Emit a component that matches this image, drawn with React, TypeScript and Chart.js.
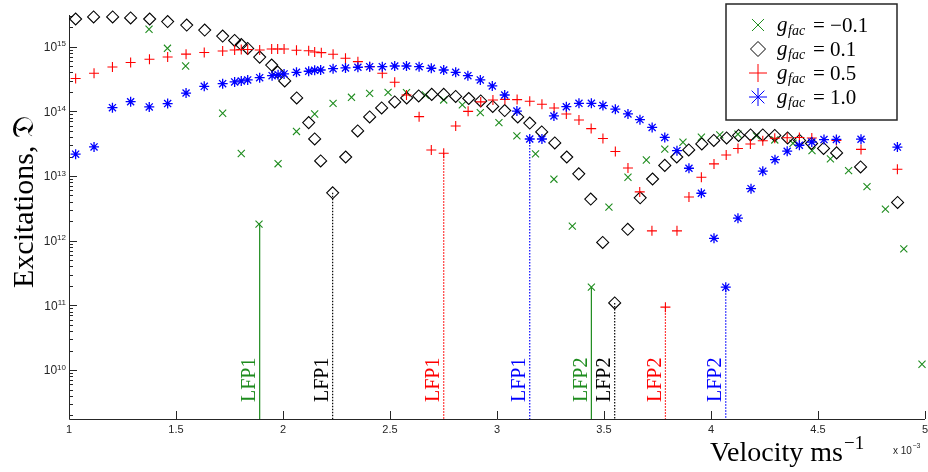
import React, { useEffect, useRef } from "react";
import { Chart, registerables } from "chart.js";

Chart.register(...registerables);

// ---------- data ----------
const X_MIN = 1;
const X_MAX = 5;
const Y_MIN = 1.75e9;
const Y_MAX = 3.09e15;

const xTicks = [1, 1.5, 2, 2.5, 3, 3.5, 4, 4.5, 5];
const xTickLabels = ["1", "1.5", "2", "2.5", "3", "3.5", "4", "4.5", "5"];
const yDecades = [10, 11, 12, 13, 14, 15];

const seriesNames = ["−0.1", "0.1", "0.5", "1.0"];
const seriesColors = ["#1e8c1e", "#000000", "#ff0000", "#0000ff"];

const greenVel = [1.374, 1.46, 1.545, 1.718, 1.805, 1.888, 1.977, 2.063, 2.148, 2.234, 2.32, 2.405, 2.491, 2.577, 2.665, 2.751, 2.838, 2.922, 3.009, 3.093, 3.18, 3.266, 3.352, 3.441, 3.523, 3.612, 3.698, 3.784, 3.869, 3.955, 4.041, 4.126, 4.212, 4.298, 4.383, 4.472, 4.558, 4.643, 4.729, 4.815, 4.901, 4.986];
const greenExc = [1.86e15, 9.45e14, 5.03e14, 9.35e13, 2.23e13, 1.8e12, 1.55e13, 4.89e13, 9.1e13, 1.33e14, 1.65e14, 1.9e14, 1.97e14, 1.95e14, 1.79e14, 1.5e14, 1.26e14, 9.55e13, 6.69e13, 4.17e13, 2.2e13, 8.93e12, 1.68e12, 1.91e11, 3.3e12, 9.57e12, 1.77e13, 2.6e13, 3.33e13, 3.98e13, 4.32e13, 4.43e13, 4.17e13, 3.61e13, 3.21e13, 2.47e13, 1.84e13, 1.21e13, 6.85e12, 3.07e12, 7.46e11, 1.23e10];

const blackVel = [1.031, 1.115, 1.204, 1.288, 1.377, 1.461, 1.55, 1.634, 1.718, 1.774, 1.805, 1.835, 1.891, 1.947, 1.975, 2.008, 2.064, 2.12, 2.148, 2.176, 2.232, 2.293, 2.349, 2.405, 2.461, 2.522, 2.578, 2.634, 2.695, 2.751, 2.807, 2.868, 2.924, 2.98, 3.036, 3.097, 3.153, 3.209, 3.27, 3.326, 3.382, 3.438, 3.494, 3.55, 3.611, 3.669, 3.727, 3.784, 3.84, 3.896, 3.957, 4.013, 4.073, 4.129, 4.185, 4.242, 4.298, 4.358, 4.414, 4.47, 4.526, 4.587, 4.699, 4.872];
const blackExc = [2.68e15, 2.88e15, 2.88e15, 2.78e15, 2.68e15, 2.45e15, 2.16e15, 1.81e15, 1.46e15, 1.25e15, 1.08e15, 9.4e14, 6.9e14, 5.2e14, 4.06e14, 2.95e14, 1.61e14, 6.7e13, 3.74e13, 1.71e13, 5.5e12, 1.97e13, 4.98e13, 8.2e13, 1.13e14, 1.4e14, 1.61e14, 1.73e14, 1.83e14, 1.83e14, 1.7e14, 1.58e14, 1.45e14, 1.19e14, 1.03e14, 8.2e13, 6.6e13, 4.8e13, 3.25e13, 1.97e13, 1.08e13, 4.4e12, 9.4e11, 1.09e11, 1.5e12, 4.6e12, 9.0e12, 1.46e13, 1.97e13, 2.53e13, 3.13e13, 3.55e13, 3.88e13, 4.24e13, 4.32e13, 4.32e13, 4.24e13, 3.88e13, 3.55e13, 3.19e13, 2.67e13, 2.28e13, 1.38e13, 3.9e12];

const redVel = [1.031, 1.117, 1.203, 1.288, 1.376, 1.461, 1.547, 1.632, 1.718, 1.774, 1.805, 1.835, 1.891, 1.947, 1.975, 2.005, 2.063, 2.12, 2.148, 2.179, 2.234, 2.292, 2.35, 2.405, 2.464, 2.522, 2.577, 2.636, 2.693, 2.751, 2.807, 2.865, 2.924, 2.981, 3.037, 3.094, 3.153, 3.21, 3.267, 3.324, 3.383, 3.44, 3.495, 3.553, 3.612, 3.667, 3.724, 3.787, 3.841, 3.897, 3.955, 4.014, 4.071, 4.126, 4.184, 4.242, 4.298, 4.356, 4.413, 4.471, 4.586, 4.701, 4.871];
const redExc = [3.22e14, 3.88e14, 4.85e14, 5.7e14, 6.38e14, 6.93e14, 7.66e14, 8.13e14, 8.58e14, 8.89e14, 9.06e14, 9.06e14, 8.89e14, 9.21e14, 9.21e14, 9.21e14, 8.8e14, 8.64e14, 8.28e14, 8.08e14, 7.63e14, 6.62e14, 5.87e14, 4.91e14, 3.88e14, 2.82e14, 1.79e14, 8.28e13, 2.53e13, 2.25e13, 5.94e13, 1.0e14, 1.4e14, 1.5e14, 1.53e14, 1.52e14, 1.43e14, 1.29e14, 1.13e14, 9.12e13, 7.37e13, 5.41e13, 3.81e13, 2.4e13, 1.33e13, 5.68e12, 1.42e12, 9.38e10, 1.42e12, 4.75e12, 9.57e12, 1.54e13, 2.12e13, 2.67e13, 3.13e13, 3.52e13, 3.84e13, 3.91e13, 3.95e13, 3.88e13, 3.55e13, 2.58e13, 1.27e13];

const blueVel = [1.031, 1.117, 1.203, 1.288, 1.375, 1.461, 1.547, 1.632, 1.718, 1.774, 1.805, 1.835, 1.891, 1.949, 1.977, 2.005, 2.063, 2.12, 2.148, 2.176, 2.234, 2.292, 2.35, 2.405, 2.464, 2.522, 2.577, 2.636, 2.693, 2.751, 2.807, 2.864, 2.922, 2.978, 3.036, 3.093, 3.153, 3.21, 3.266, 3.324, 3.383, 3.441, 3.495, 3.553, 3.612, 3.668, 3.725, 3.784, 3.841, 3.897, 3.955, 4.014, 4.069, 4.126, 4.187, 4.242, 4.299, 4.356, 4.413, 4.471, 4.528, 4.586, 4.701, 4.871];
const blueExc = [2.18e13, 2.82e13, 1.14e14, 1.41e14, 1.17e14, 1.32e14, 1.92e14, 2.44e14, 2.68e14, 2.85e14, 2.95e14, 3.06e14, 3.32e14, 3.56e14, 3.69e14, 3.79e14, 4.02e14, 4.17e14, 4.32e14, 4.36e14, 4.57e14, 4.69e14, 4.81e14, 4.91e14, 4.91e14, 5.03e14, 5.03e14, 4.91e14, 4.64e14, 4.36e14, 4.02e14, 3.56e14, 3.06e14, 2.47e14, 1.79e14, 1.01e14, 3.74e13, 3.74e13, 8.49e13, 1.18e14, 1.33e14, 1.33e14, 1.23e14, 1.08e14, 9.12e13, 7.45e13, 5.64e13, 3.95e13, 2.47e13, 1.32e13, 5.42e12, 1.09e12, 1.91e11, 2.23e12, 6.38e12, 1.19e13, 1.79e13, 2.42e13, 2.99e13, 3.36e13, 3.66e13, 3.68e13, 3.71e13, 2.8e13];

const lfpVel = [1.891, 2.232, 2.751, 3.153, 3.441, 3.55, 3.787, 4.069];
const lfpExc = [1.8e12, 5.5e12, 2.25e13, 3.74e13, 1.91e11, 1.09e11, 9.38e10, 1.91e11];
const lfpText = ["LFP1", "LFP1", "LFP1", "LFP1", "LFP2", "LFP2", "LFP2", "LFP2"];
const lfpSeries = [0, 1, 2, 3, 0, 1, 2, 3];

const AXIS_COLOR = "#262626";
const SERIF = "'Liberation Serif', 'DejaVu Serif', serif";
const SANS = "'Liberation Sans', Arial, sans-serif";

function pts(xs: number[], ys: number[]) {
  return xs.map((x, i) => ({ x, y: ys[i] }));
}

function drawMarker(ctx: CanvasRenderingContext2D, kind: number, x: number, y: number, r: number) {
  ctx.beginPath();
  if (kind === 0) {
    const d = r * Math.SQRT1_2;
    ctx.moveTo(x - d, y - d); ctx.lineTo(x + d, y + d);
    ctx.moveTo(x - d, y + d); ctx.lineTo(x + d, y - d);
  } else if (kind === 1) {
    ctx.moveTo(x - r, y); ctx.lineTo(x, y - r); ctx.lineTo(x + r, y); ctx.lineTo(x, y + r); ctx.closePath();
  } else if (kind === 2) {
    ctx.moveTo(x - r, y); ctx.lineTo(x + r, y);
    ctx.moveTo(x, y - r); ctx.lineTo(x, y + r);
  } else {
    const d = r * Math.SQRT1_2;
    ctx.moveTo(x - r, y); ctx.lineTo(x + r, y);
    ctx.moveTo(x, y - r); ctx.lineTo(x, y + r);
    ctx.moveTo(x - d, y - d); ctx.lineTo(x + d, y + d);
    ctx.moveTo(x - d, y + d); ctx.lineTo(x + d, y - d);
  }
  ctx.stroke();
}

const decorPlugin = {
  id: "decor",
  beforeDatasetsDraw(chart: any) {
    const { ctx, chartArea } = chart;
    const xs = chart.scales.x;
    const ys = chart.scales.y;
    ctx.save();
    ctx.strokeStyle = AXIS_COLOR;
    ctx.lineWidth = 1;
    ctx.beginPath();
    ctx.moveTo(Math.round(chartArea.left) + 0.5, chartArea.top);
    ctx.lineTo(Math.round(chartArea.left) + 0.5, Math.round(chartArea.bottom) + 0.5);
    ctx.lineTo(chartArea.right, Math.round(chartArea.bottom) + 0.5);
    ctx.stroke();
    ctx.beginPath();
    xTicks.forEach((v) => {
      const px = Math.round(xs.getPixelForValue(v)) + 0.5;
      ctx.moveTo(px, chartArea.bottom);
      ctx.lineTo(px, chartArea.bottom - 8);
    });
    ctx.stroke();
    ctx.beginPath();
    for (let d = 9; d <= 15; d++) {
      for (let m = 1; m <= 9; m++) {
        const v = m * Math.pow(10, d);
        if (v < Y_MIN || v > Y_MAX) continue;
        const py = Math.round(ys.getPixelForValue(v)) + 0.5;
        const len = m === 1 ? 8 : 4;
        ctx.moveTo(chartArea.left, py);
        ctx.lineTo(chartArea.left + len, py);
      }
    }
    ctx.stroke();
    ctx.fillStyle = AXIS_COLOR;
    ctx.font = `11px ${SANS}`;
    ctx.textAlign = "center";
    ctx.textBaseline = "middle";
    xTicks.forEach((v, i) => {
      ctx.fillText(xTickLabels[i], xs.getPixelForValue(v), chartArea.bottom + 11);
    });
    yDecades.forEach((d) => {
      const py = ys.getPixelForValue(Math.pow(10, d));
      ctx.font = `8px ${SANS}`;
      ctx.textAlign = "left";
      ctx.textBaseline = "alphabetic";
      const exp = String(d);
      const ew = ctx.measureText(exp).width;
      const ex = chartArea.left - 3 - ew;
      ctx.fillText(exp, ex, py - 0.5);
      ctx.font = `12px ${SANS}`;
      ctx.textAlign = "right";
      ctx.textBaseline = "middle";
      ctx.fillText("10", ex, py + 1);
    });
    ctx.restore();
  },
  afterDraw(chart: any) {
    const { ctx, chartArea } = chart;
    const xs = chart.scales.x;
    ctx.save();
    ctx.font = `20px ${SERIF}`;
    ctx.textAlign = "left";
    ctx.textBaseline = "alphabetic";
    lfpVel.forEach((v, i) => {
      const px = xs.getPixelForValue(v);
      ctx.save();
      ctx.translate(px - 4.5, chartArea.bottom - 17);
      ctx.rotate(-Math.PI / 2);
      ctx.fillStyle = seriesColors[lfpSeries[i]];
      ctx.fillText(lfpText[i], 0, 0);
      ctx.restore();
    });
    ctx.save();
    ctx.fillStyle = "#000";
    ctx.font = `30px ${SERIF}`;
    ctx.textAlign = "center";
    ctx.translate(33, 202);
    ctx.rotate(-Math.PI / 2);
    ctx.fillText("Excitations, 𝔇", 0, 0);
    ctx.restore();
    ctx.fillStyle = "#000";
    ctx.font = `28px ${SERIF}`;
    ctx.textAlign = "left";
    ctx.textBaseline = "alphabetic";
    const base = "Velocity ms";
    ctx.fillText(base, 710, 461);
    const bw = ctx.measureText(base).width;
    ctx.font = `19px ${SERIF}`;
    ctx.fillText("−1", 710 + bw + 1, 449);
    ctx.fillStyle = AXIS_COLOR;
    ctx.font = `10px ${SANS}`;
    ctx.fillText("x 10", 893, 454);
    const xw = ctx.measureText("x 10").width;
    ctx.font = `7px ${SANS}`;
    ctx.fillText("−3", 893 + xw + 0.5, 448);
    const lx = 726, ly = 4, lw = 171, lh = 116;
    ctx.fillStyle = "#fff";
    ctx.fillRect(lx, ly, lw, lh);
    ctx.strokeStyle = AXIS_COLOR;
    ctx.lineWidth = 1.5;
    ctx.strokeRect(lx, ly, lw, lh);
    const rows = [25, 49, 73, 97];
    const mr = [8.5, 7.5, 9, 9];
    seriesNames.forEach((name, i) => {
      const y = rows[i];
      ctx.strokeStyle = seriesColors[i];
      ctx.lineWidth = 1;
      drawMarker(ctx, i, 758, y, mr[i]);
      ctx.fillStyle = "#000";
      ctx.font = `italic 21px ${SERIF}`;
      ctx.fillText("g", 777, y + 6);
      ctx.font = `italic 14px ${SERIF}`;
      ctx.fillText("fac", 788, y + 10);
      ctx.font = `21px ${SERIF}`;
      ctx.fillText("= " + name, 813, y + 7);
    });
    ctx.restore();
  },
};

export default function App() {
  const ref = useRef<HTMLCanvasElement | null>(null);
  useEffect(() => {
    document.body.style.margin = "0";
    const canvas = ref.current;
    if (!canvas) return;
    const markerDatasets = [
      { label: "g=-0.1", data: pts(greenVel, greenExc), pointStyle: "crossRot", pointRadius: 5, borderColor: seriesColors[0], borderWidth: 1.1, order: 3 },
      { label: "g=0.1", data: pts(blackVel, blackExc), pointStyle: "rectRot", pointRadius: 6, borderColor: seriesColors[1], backgroundColor: "rgba(0,0,0,0)", borderWidth: 1.1, order: 2 },
      { label: "g=0.5", data: pts(redVel, redExc), pointStyle: "cross", pointRadius: 5, borderColor: seriesColors[2], borderWidth: 1.1, order: 1 },
      { label: "g=1.0", data: pts(blueVel, blueExc), pointStyle: "star", pointRadius: 5, borderColor: seriesColors[3], borderWidth: 1.3, order: 0 },
    ].map((d) => ({ ...d, type: "scatter" as const, showLine: false, clip: false, pointHoverRadius: d.pointRadius }));
    const lfpDatasets = lfpVel.map((v, i) => ({
      type: "line" as const,
      label: lfpText[i],
      data: [{ x: v, y: lfpExc[i] }, { x: v, y: Y_MIN }],
      borderColor: seriesColors[lfpSeries[i]],
      borderWidth: 1.2,
      borderDash: lfpSeries[i] === 0 ? [] : [1.5, 1.5],
      pointRadius: 0,
      showLine: true,
      order: 5,
    }));
    const chart = new Chart(canvas, {
      type: "scatter",
      data: { datasets: [...markerDatasets, ...lfpDatasets] as any },
      options: {
        animation: false,
        responsive: false,
        maintainAspectRatio: false,
        devicePixelRatio: 1,
        layout: { autoPadding: false, padding: { left: 69, right: 3, top: 15, bottom: 53 } },
        plugins: { legend: { display: false }, tooltip: { enabled: false } },
        scales: {
          x: { type: "linear", min: X_MIN, max: X_MAX, display: false },
          y: { type: "logarithmic", min: Y_MIN, max: Y_MAX, display: false },
        },
      },
      plugins: [decorPlugin],
    });
    return () => chart.destroy();
  }, []);
  return <canvas ref={ref} width={928} height={472} style={{ display: "block", width: 928, height: 472 }} />;
}
